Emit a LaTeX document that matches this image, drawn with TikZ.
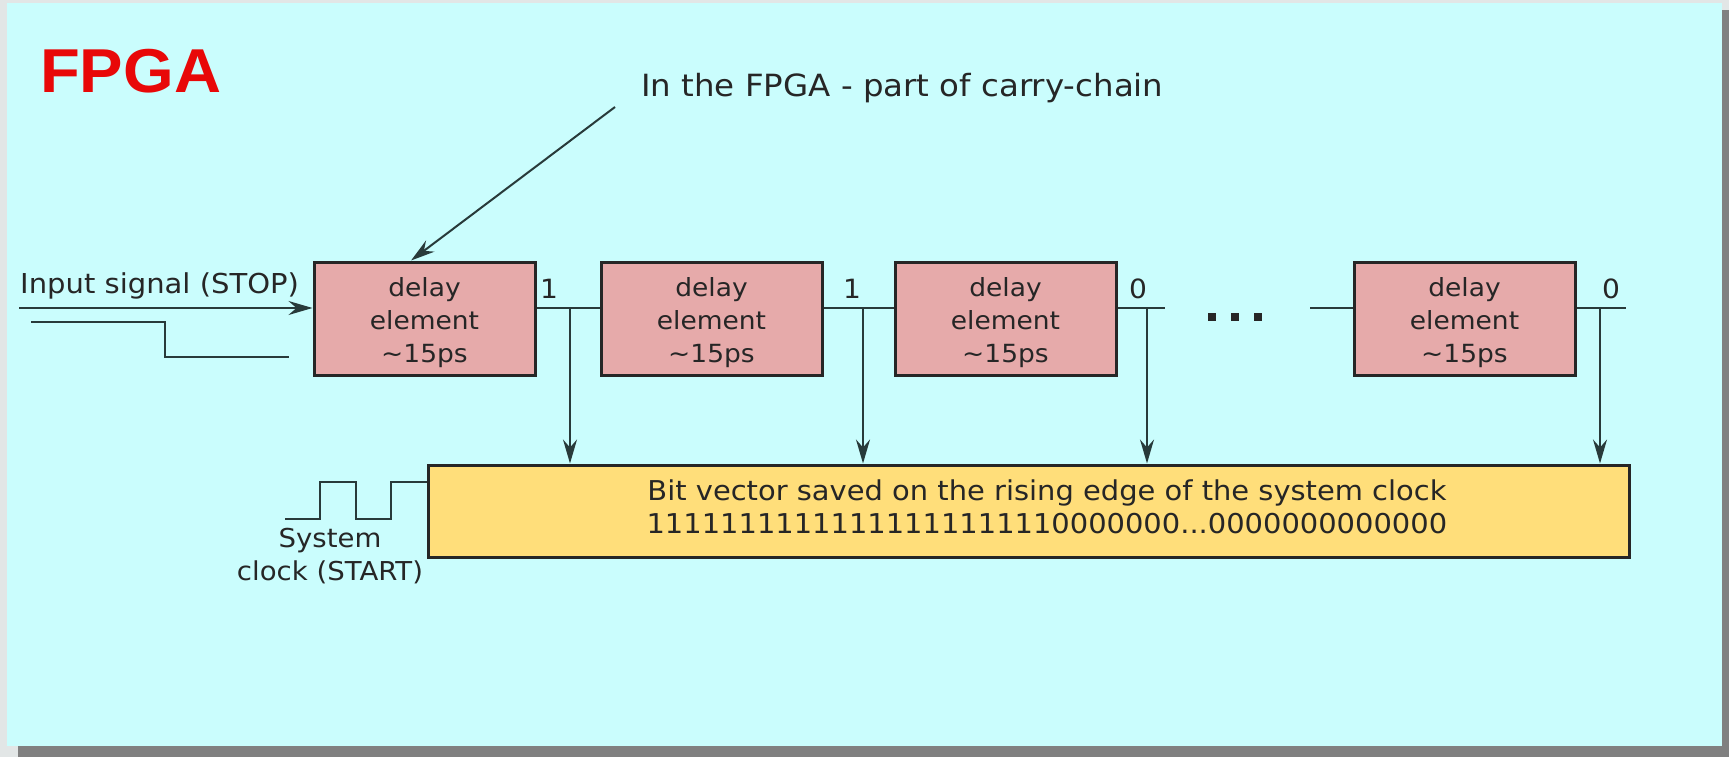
\documentclass[tikz,border=0pt]{standalone}
\usepackage{fontspec}
\setmainfont{DejaVu Sans}[FakeStretch=1.06]
\newfontfamily\headfont{Liberation Sans}[FakeStretch=1.05]
\usetikzlibrary{arrows.meta,calc}

\definecolor{pagegray}{RGB}{226,230,230}
\definecolor{shadowgray}{RGB}{128,128,128}
\definecolor{bgcyan}{RGB}{202,253,253}
\definecolor{delaypink}{RGB}{230,170,170}
\definecolor{vecyellow}{RGB}{255,222,122}
\definecolor{wire}{RGB}{40,58,58}
\definecolor{ink}{RGB}{38,38,38}
\definecolor{titlered}{RGB}{232,8,8}

\tikzset{
  wireline/.style={draw=wire, line width=2pt},
  tip/.style={-{Stealth[length=24pt,width=14pt,inset=8pt]}},
  delaybox/.style={draw=ink, line width=3pt, fill=delaypink,
    minimum width=221pt, minimum height=113pt, inner sep=0pt},
  boxtext/.style={inner sep=0pt, align=center, text=ink,
    font=\fontsize{25}{33}\selectfont},
  vecbox/.style={draw=ink, line width=3pt, fill=vecyellow,
    minimum width=1201pt, minimum height=92pt, inner sep=0pt},
  plaintext/.style={inner sep=0pt, text=ink, font=\fontsize{27.3}{33}\selectfont},
  bitlabel/.style={plaintext, font=\fontsize{26.5}{33}\selectfont}
}

\begin{document}
\begin{tikzpicture}[x=1pt,y=-1pt]
  \useasboundingbox (0,0) rectangle (1729,757);
  % page, drop shadow and slide area
  \fill[pagegray] (0,0) rectangle (1729,757);
  \fill[shadowgray] (18,10) rectangle (1729,757);
  \fill[bgcyan] (7,3) rectangle (1722,746);

  % title
  \node[anchor=base west, inner sep=0pt, text=titlered,
        font=\headfont\bfseries\fontsize{62}{62}\selectfont] (title) at (40,93) {FPGA};

  % signal level of the delay chain
  \coordinate (sig) at (0,308);

  % delay elements (text block sits slightly below the box centre)
  \foreach \name/\cx in {d1/424.5, d2/711.5, d3/1005.5, d4/1464.5} {
    \node[delaybox] (\name) at (\cx,318.5) {};
    \node[boxtext] (\name text) at (\cx,322.5) {delay\\element\\\textasciitilde15ps};
  }

  % captured bit vector
  \node[vecbox] (vec) at (1028.5,511) {};
  \node[plaintext, align=center] (vectext) at (1047,507)
    {Bit vector saved on the rising edge of the system clock\\
     1111111111111111111111%
     0000000...0000000000000};

  % annotation
  \node[plaintext, anchor=base west, font=\fontsize{30.6}{33}\selectfont] (note) at (641,97)
    {In the FPGA - part of carry-chain};
  \coordinate (noteTail) at (615,107);
  \draw[wireline, tip] (noteTail) -- ($(d1.north west)!0.44!(d1.north east)$);

  % input signal
  \node[plaintext, anchor=base west, font=\fontsize{27.4}{33}\selectfont] (inlabel) at (20,293) {Input signal (STOP)};
  \coordinate (inStart) at (19,308);
  \draw[wireline, tip] (inStart) -- (d1.west |- sig);
  \coordinate (stepA) at (31,322);
  \coordinate (stepB) at (165,322);
  \coordinate (stepC) at (165,357);
  \coordinate (stepD) at (289,357);
  \draw[wireline] (stepA) -- (stepB) -- (stepC) -- (stepD);

  % chain wires and taps
  \coordinate (t1) at (570,308);
  \coordinate (t2) at (863,308);
  \coordinate (t3) at (1147,308);
  \coordinate (t4) at (1600,308);
  \coordinate (end3) at (1165,308);
  \coordinate (start4) at (1310,308);
  \coordinate (end4) at (1626,308);

  \draw[wireline] (d1.east |- sig) -- (d2.west |- sig);
  \draw[wireline] (d2.east |- sig) -- (d3.west |- sig);
  \draw[wireline] (d3.east |- sig) -- (end3);
  \draw[wireline] (start4) -- (d4.west |- sig);
  \draw[wireline] (d4.east |- sig) -- (end4);

  \foreach \t in {t1,t2,t3,t4}
    \draw[wireline, tip] (\t) -- (\t |- vec.north);

  % bit values
  \node[bitlabel] (b1) at (549,289) {1};
  \node[bitlabel] (b2) at (852,289) {1};
  \node[bitlabel] (b3) at (1138,289) {0};
  \node[bitlabel] (b4) at (1611,289) {0};

  % gap in the chain
  \foreach \cx in {1212,1235,1258}
    \fill[ink] (\cx-4,313) rectangle (\cx+4,321);

  % system clock
  \coordinate (clkA) at (285,519);
  \coordinate (clkB) at (320,519);
  \coordinate (clkC) at (320,482);
  \coordinate (clkD) at (356,482);
  \coordinate (clkE) at (356,519);
  \coordinate (clkF) at (391,519);
  \coordinate (clkG) at (391,482);
  \draw[wireline, line width=1.6pt] (clkA) -- (clkB) -- (clkC) -- (clkD) -- (clkE)
    -- (clkF) -- (clkG) -- (vec.west |- clkG);
  \node[plaintext, align=center, font=\fontsize{26}{33}\selectfont] (clklabel) at (330,556) {System\\clock (START)};
\end{tikzpicture}
\end{document}
